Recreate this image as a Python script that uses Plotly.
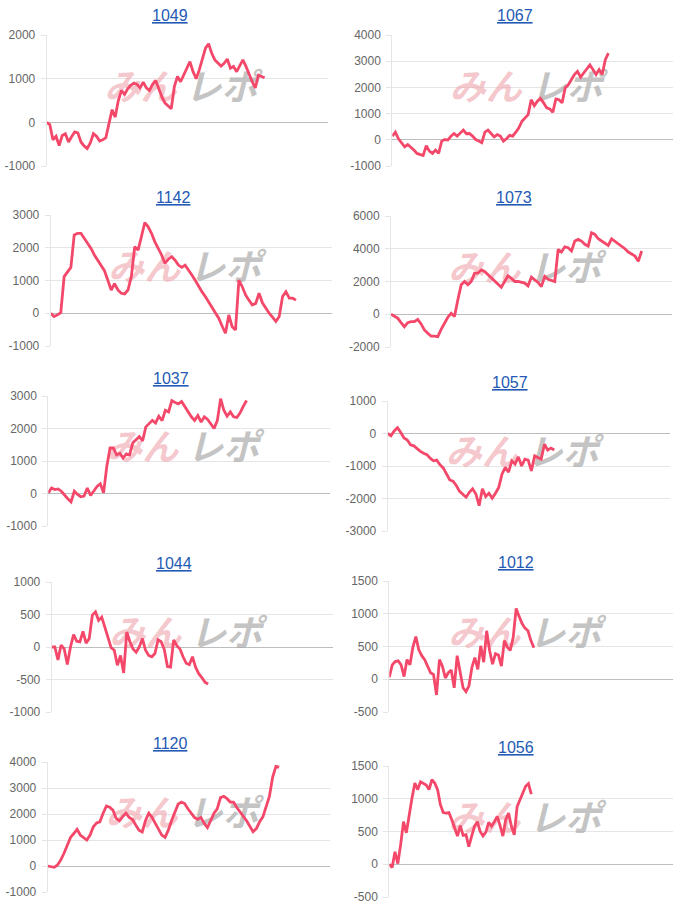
import plotly.graph_objects as go

W, H = 679, 905

titles = ["1049", "1067", "1142", "1073", "1037", "1057", "1044", "1012", "1120", "1056"]

v1049 = [0, -50, -400, -320, -530, -300, -260, -450, -330, -220, -240, -450, -540, -600, -470, -260, -320, -430,
         -400, -350, -30, 290, 120, 500, 730, 640, 770, 850, 900, 870, 790, 920, 790, 730, 870, 960, 770, 580, 440,
         370, 310, 820, 1050, 930, 1080, 1200, 1390, 1160, 1000, 1200, 1470, 1700, 1800, 1580, 1430, 1370, 1290,
         1350, 1450, 1240, 1280, 1160, 1290, 1430, 1280, 1080, 930, 790, 1080, 1050, 1020]
v1067 = [140, 290, 40, -110, -270, -180, -270, -390, -520, -560, -600, -220, -430, -520, -390, -520, -50, 10, -10,
         140, 240, 140, 240, 370, 230, 240, 140, 10, -50, -110, 290, 370, 240, 110, 200, 140, -50, 40, 170, 140, 290,
         460, 710, 840, 960, 1530, 1300, 1470, 1580, 1410, 1220, 1180, 1050, 1560, 1530, 1410, 1980, 2100, 2320,
         2490, 2610, 2390, 2550, 2710, 2860, 2680, 2490, 2680, 2490, 3060, 3310]
v1142 = [0, -100, -50, 20, 1120, 1270, 1400, 2390, 2440, 2440, 2290, 2130, 1980, 1780, 1620, 1470, 1300, 1010, 710,
         900, 710, 610, 590, 710, 1120, 2030, 1930, 2340, 2770, 2640, 2440, 2180, 1980, 1780, 1520, 1650, 1730, 1620,
         1470, 1400, 1470, 1300, 1170, 1010, 810, 660, 510, 350, 200, 50, -150, -390, -610, -50, -410, -510, 1010,
         810, 560, 400, 250, 300, 610, 320, 150, 0, -120, -250, -100, 510, 660, 460, 460, 400]
v1073 = [0, -100, -240, -510, -760, -510, -450, -450, -310, -590, -960, -1160, -1330, -1330, -1370, -920, -550, -180,
         60, -140, 880, 1800, 2000, 1800, 2000, 2510, 2510, 2710, 2610, 2410, 2200, 2000, 1800, 1650, 2000, 2350,
         2200, 2000, 2000, 1940, 1900, 1730, 2270, 2100, 1940, 1690, 2310, 2140, 2060, 2000, 3960, 3800, 4120, 4060,
         3860, 4470, 4570, 4470, 4270, 4160, 4980, 4880, 4610, 4470, 4330, 4200, 4610, 4470, 4330, 4160, 4000, 3800,
         3650, 3550, 3240, 3860]
v1037 = [20, 170, 120, 140, 70, -60, -160, -260, 70, -30, -100, -80, 170, -60, 100, 220, 300, 20, 840, 1400, 1400,
         1190, 1240, 1090, 1220, 1190, 1560, 1650, 1750, 1620, 2050, 2150, 2250, 2170, 2380, 2240, 2560, 2510, 2860,
         2800, 2760, 2830, 2670, 2510, 2360, 2250, 2400, 2200, 2360, 2280, 2150, 2000, 2250, 2920, 2560, 2380, 2510,
         2360, 2340, 2480, 2690, 2860]
v1057 = [0, -70, 80, 180, 30, -140, -200, -350, -380, -480, -550, -610, -650, -760, -840, -820, -960, -1060, -1230,
         -1430, -1470, -1600, -1780, -1860, -1960, -1810, -1700, -1860, -2220, -1700, -1940, -1840, -1990, -1840,
         -1660, -1250, -1040, -1190, -840, -940, -720, -1000, -790, -820, -1150, -690, -740, -790, -330, -510, -450,
         -510]
v1044 = [0, 0, -200, 30, -30, -270, 0, 190, 90, 80, 240, 60, 130, 490, 540, 410, 460, 310, 130, -10, -50, -280,
         -130, -400, 230, 80, -30, -80, 0, 130, -50, -130, -150, -100, 110, 80, -40, -300, -310, 110, 20, -30, -150,
         -250, -270, -150, -310, -410, -470, -540, -570]
v1012 = [30, 220, 270, 280, 220, 40, 300, 220, 490, 650, 450, 360, 300, 200, 100, 70, -240, 300, 200, 20, 100, 140,
         -130, 360, 80, -130, -190, -100, 180, 330, 150, 510, 260, 740, 440, 230, 390, 370, 200, 590, 490, 440, 640,
         1080, 960, 850, 780, 740, 590, 480]
v1120 = [0, -30, -50, 40, 230, 490, 770, 1100, 1250, 1410, 1190, 1100, 1000, 1190, 1510, 1660, 1700, 2030, 2310,
         2260, 2150, 1830, 1740, 1900, 2030, 1870, 1790, 1580, 1380, 1310, 1750, 2030, 1870, 1640, 1410, 1190, 1100,
         1380, 1750, 2080, 2380, 2460, 2400, 2200, 2030, 1870, 1790, 1870, 1640, 1480, 1750, 2030, 2200, 2630, 2680,
         2590, 2460, 2460, 2250, 2080, 1920, 1740, 1530, 1320, 1440, 1700, 1890, 2250, 2680, 3420, 3830, 3800]
v1056 = [0, -50, 190, 10, 300, 650, 480, 760, 1010, 1240, 1140, 1260, 1240, 1210, 1140, 1290, 1240, 1140, 910, 790,
         780, 790, 680, 550, 430, 590, 440, 450, 270, 430, 580, 650, 500, 430, 490, 640, 580, 650, 730, 590, 430,
         680, 780, 580, 450, 880, 980, 1090, 1190, 1230, 1070]

series = [v1049, v1067, v1142, v1073, v1037, v1057, v1044, v1012, v1120, v1056]

y_min = [-1000, -1000, -1000, -2000, -1000, -3000, -1000, -500, -1000, -500]
y_max = [2000, 4000, 3000, 6000, 3000, 1000, 1000, 1500, 4000, 1500]
y_step = [1000, 1000, 1000, 2000, 1000, 1000, 500, 500, 1000, 500]

# fraction of plot width covered by each line
end_frac = [0.774, 0.769, 0.873, 0.893, 0.704, 0.59, 0.556, 0.509, 0.82, 0.50]

# panel boxes in pixels: left, right, top, bottom
boxes = [
    (46.7, 328.3, 35, 166), (392.3, 673.3, 35, 166),
    (50.7, 331.7, 215, 346), (391, 671.7, 216, 347),
    (48.3, 330, 396, 526), (387.7, 670, 401, 531),
    (51.7, 333, 582, 712), (389.3, 673.3, 581, 712),
    (47.7, 330, 762, 892), (389.3, 673.3, 766, 897),
]
title_pos = [(170, 16), (515, 16), (173, 197), (514, 197), (171, 378), (510, 382),
             (174, 563), (516, 562), (170, 743), (516, 747)]

LINE = "rgb(243,72,106)"
GRID = "#e5e5e5"
FONT = "Liberation Sans, Arial, Helvetica, sans-serif"

fig = go.Figure()
layout = {}
annotations = []

for i in range(10):
    k = "" if i == 0 else str(i + 1)
    l, r, t, b = boxes[i]
    pw, ph = r - l, b - t
    vals = series[i]
    n = len(vals)
    xr = (n - 1) / end_frac[i]
    ys = y_max[i] - y_min[i]
    dxp = xr / pw
    dyp = ys / ph
    cx = xr / 2
    cy = y_min[i] + ys / 2 + 10 * dyp

    # watermark (below the line)
    fig.add_trace(go.Scatter(
        x=[cx - 47 * dxp], y=[cy], mode="text", text=["<b><i>みん</i></b>"],
        textfont=dict(size=36, color="rgba(238,168,176,0.65)", family="Noto Sans CJK JP"),
        xaxis="x" + k, yaxis="y" + k, hoverinfo="skip", showlegend=False))
    fig.add_trace(go.Scatter(
        x=[cx + 34 * dxp], y=[cy], mode="text", text=["<b><i>レポ</i></b>"],
        textfont=dict(size=36, color="rgba(170,170,170,0.7)", family="Noto Sans CJK JP"),
        xaxis="x" + k, yaxis="y" + k, hoverinfo="skip", showlegend=False))

    fig.add_trace(go.Scatter(
        x=list(range(n)), y=vals, mode="lines",
        line=dict(color=LINE, width=2.8),
        xaxis="x" + k, yaxis="y" + k, showlegend=False, hoverinfo="skip"))

    tv = list(range(y_min[i], y_max[i] + 1, y_step[i]))
    layout["xaxis" + k] = dict(domain=[l / W, r / W], range=[0, xr], showgrid=False, zeroline=False,
                               showticklabels=False, showline=False, ticks="", anchor="y" + k,
                               fixedrange=True, automargin=False)
    layout["yaxis" + k] = dict(domain=[1 - b / H, 1 - t / H], range=[y_min[i], y_max[i]],
                               tickvals=tv, ticktext=[str(v) for v in tv],
                               showgrid=True, gridcolor=GRID, gridwidth=1,
                               zeroline=True, zerolinecolor="#bdbdbd", zerolinewidth=1,
                               showline=True, linecolor=GRID, linewidth=1,
                               ticks="outside", ticklen=5, tickcolor=GRID, ticklabelstandoff=3,
                               tickfont=dict(size=12, color="#666666", family=FONT),
                               anchor="x" + k, fixedrange=True, automargin=False)

    tx, ty = title_pos[i]
    annotations.append(dict(
        x=tx / W, y=1 - ty / H, xref="paper", yref="paper", xanchor="center", yanchor="middle",
        text='<span style="text-decoration:underline">' + titles[i] + "</span>",
        showarrow=False, font=dict(size=16, color="rgb(35,90,180)", family=FONT)))

fig.update_layout(
    width=W, height=H, margin=dict(l=0, r=0, t=0, b=0, autoexpand=False), autosize=False,
    paper_bgcolor="white", plot_bgcolor="white",
    annotations=annotations, **layout)

fig.write_html("out.html", config={"displayModeBar": False})
